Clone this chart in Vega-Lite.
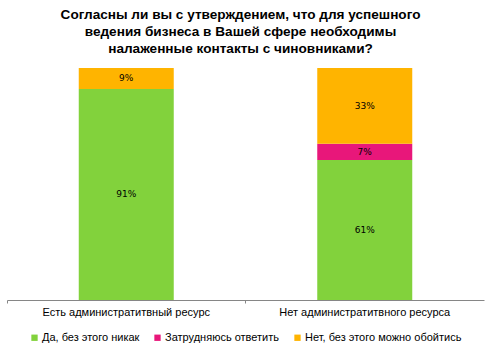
{
  "$schema": "https://vega.github.io/schema/vega-lite/v6.json",
  "width": 477,
  "height": 232,
  "padding": {"left": 6, "top": 8, "right": 13, "bottom": 5},
  "background": "white",
  "config": {
    "view": {"stroke": null},
    "font": "Liberation Sans",
    "legend": {"layout": {"bottom": {"anchor": "middle"}}}
  },
  "title": {
    "text": ["Согласны ли вы с утверждением, что для успешного", "ведения бизнеса в Вашей сфере необходимы", "налаженные контакты с чиновниками?"],
    "font": "Liberation Sans",
    "fontSize": 13.6,
    "fontWeight": "bold",
    "lineHeight": 17,
    "color": "#000000",
    "anchor": "middle",
    "frame": "group",
    "dx": -5,
    "offset": 12
  },
  "data": {
    "values": [
      {"cat": "Есть администратитвный ресурс", "answer": "Да, без этого никак", "value": 91, "ord": 1},
      {"cat": "Есть администратитвный ресурс", "answer": "Затрудняюсь ответить", "value": 0, "ord": 2},
      {"cat": "Есть администратитвный ресурс", "answer": "Нет, без этого можно обойтись", "value": 9, "ord": 3},
      {"cat": "Нет администратитвного ресурса", "answer": "Да, без этого никак", "value": 61, "ord": 1},
      {"cat": "Нет администратитвного ресурса", "answer": "Затрудняюсь ответить", "value": 7, "ord": 2},
      {"cat": "Нет администратитвного ресурса", "answer": "Нет, без этого можно обойтись", "value": 33, "ord": 3}
    ]
  },
  "transform": [
    {"stack": "value", "groupby": ["cat"], "sort": [{"field": "ord"}], "offset": "normalize", "as": ["v0", "v1"]},
    {"calculate": "(datum.v0 + datum.v1) / 2", "as": "mid"},
    {"calculate": "datum.value + '%'", "as": "label"}
  ],
  "encoding": {
    "x": {
      "field": "cat",
      "type": "nominal",
      "sort": null,
      "title": null,
      "scale": {"paddingInner": 0, "paddingOuter": 0},
      "axis": {
        "labelAngle": 0,
        "labelFontSize": 11,
        "labelColor": "#000000",
        "labelFont": "Liberation Sans",
        "domainColor": "#868686",
        "tickColor": "#868686",
        "tickSize": 3,
        "bandPosition": 0,
        "labelPadding": 3
      }
    }
  },
  "layer": [
    {
      "mark": {"type": "bar", "width": 95},
      "encoding": {
        "y": {"field": "v0", "type": "quantitative", "scale": {"domain": [0, 1]}, "axis": null},
        "y2": {"field": "v1"},
        "color": {
          "field": "answer",
          "type": "nominal",
          "scale": {
            "domain": ["Да, без этого никак", "Затрудняюсь ответить", "Нет, без этого можно обойтись"],
            "range": ["#82d23c", "#e8177a", "#ffb400"]
          },
          "legend": {
            "orient": "bottom",
            "direction": "horizontal",
            "title": null,
            "symbolType": "square",
            "symbolSize": 40,
            "symbolStrokeWidth": 0,
            "labelFontSize": 11,
            "labelFont": "Liberation Sans",
            "labelColor": "#000000",
            "columnPadding": 12,
            "labelOffset": 2,
            "offset": 15
          }
        }
      }
    },
    {
      "transform": [{"filter": "datum.value > 0"}],
      "mark": {"type": "text", "font": "DejaVu Sans", "fontSize": 9, "color": "#000000", "baseline": "middle"},
      "encoding": {
        "y": {"field": "mid", "type": "quantitative", "scale": {"domain": [0, 1]}},
        "text": {"field": "label", "type": "nominal"},
        "detail": {"field": "answer"}
      }
    }
  ]
}
